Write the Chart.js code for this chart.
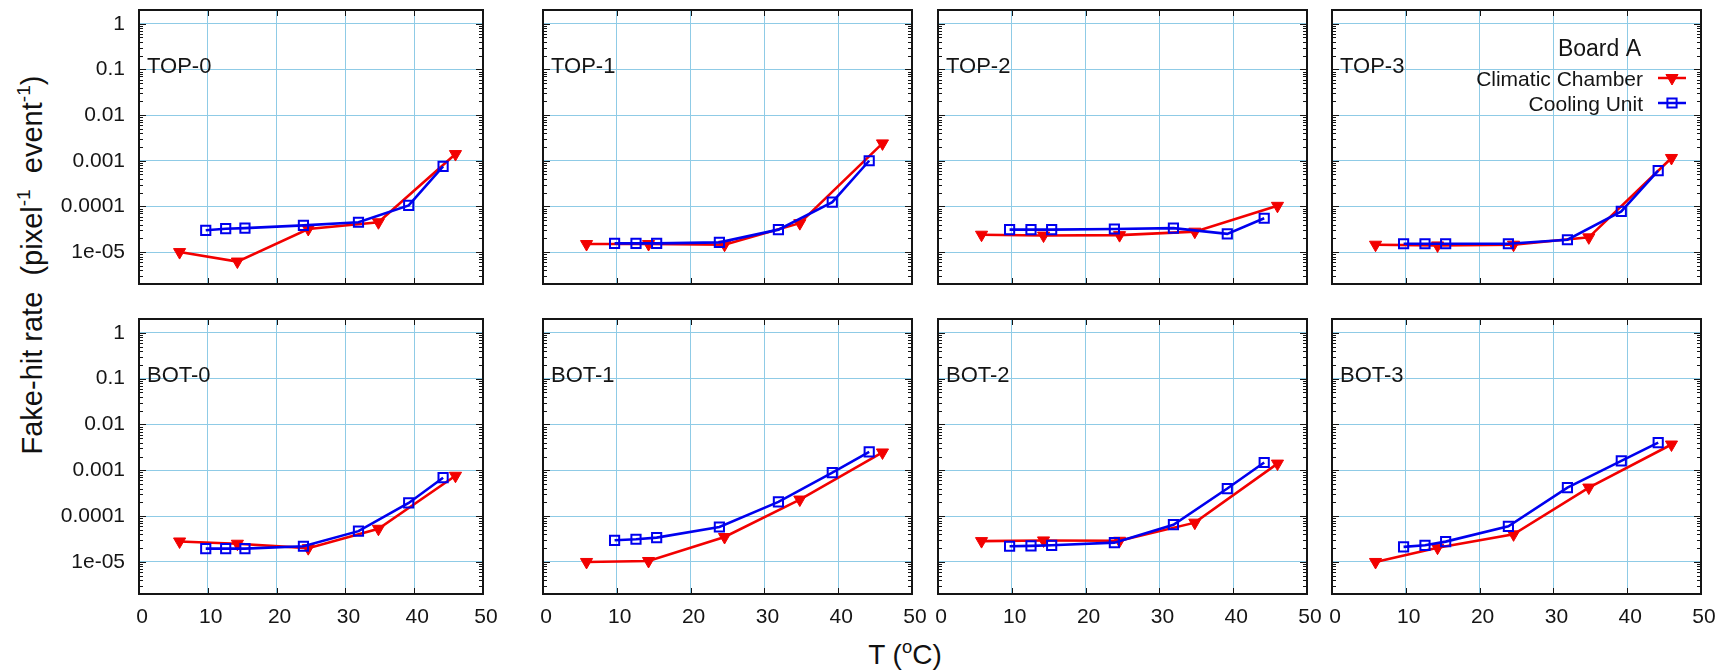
<!DOCTYPE html>
<html><head><meta charset="utf-8">
<script src="https://cdn.jsdelivr.net/npm/chart.js@4.4.1/dist/chart.umd.min.js"></script>
<style>
html,body{margin:0;padding:0;background:#fff;width:1719px;height:670px;overflow:hidden;position:relative;font-family:'Liberation Sans',Arial,Helvetica,sans-serif;}
canvas{position:absolute;}
.ttl{position:absolute;color:#111;white-space:nowrap;text-align:center;line-height:40px;height:40px;}
.ttl sup{font-size:0.66em;line-height:0;vertical-align:0.62em;}
</style></head><body>
<div class="ttl" id="ytitle" style="font-size:29px;left:-218px;top:245px;width:500px;transform:rotate(-90deg);">Fake-hit rate&nbsp; (pixel<sup>-1</sup> &nbsp;event<sup>-1</sup>)</div>
<div class="ttl" id="xtitle" style="font-size:28px;left:805px;top:635px;width:200px;">T (<sup>o</sup>C)</div>
<script>
// ---------------- data ----------------
const panelNames = ['TOP-0','TOP-1','TOP-2','TOP-3','BOT-0','BOT-1','BOT-2','BOT-3'];
const seriesNames = ['Climatic Chamber','Cooling Unit'];
const legendTitle = 'Board A';
const tempClimatic = [5.9, 14.3, 24.6, 34.8, 46.0];
const tempCooling  = [9.7, 12.6, 15.4, 23.9, 31.9, 39.2, 44.2];

const climaticTOP0 = [1.0e-5, 6.2e-6, 3.2e-5, 4.5e-5, 1.4e-3];
const climaticTOP1 = [1.5e-5, 1.5e-5, 1.45e-5, 4.3e-5, 2.4e-3];
const climaticTOP2 = [2.4e-5, 2.3e-5, 2.35e-5, 2.8e-5, 1.03e-4];
const climaticTOP3 = [1.45e-5, 1.4e-5, 1.45e-5, 2.1e-5, 1.15e-3];
const climaticBOT0 = [2.8e-5, 2.5e-5, 2.0e-5, 5.3e-5, 7.6e-4];
const climaticBOT1 = [1.0e-5, 1.05e-5, 3.5e-5, 2.3e-4, 2.45e-3];
const climaticBOT2 = [2.85e-5, 2.95e-5, 2.9e-5, 7.2e-5, 1.4e-3];
const climaticBOT3 = [1.0e-5, 2.05e-5, 4.0e-5, 4.2e-4, 3.65e-3];

const coolingTOP0 = [3.0e-5, 3.25e-5, 3.35e-5, 3.85e-5, 4.5e-5, 1.05e-4, 7.5e-4];
const coolingTOP1 = [1.55e-5, 1.55e-5, 1.55e-5, 1.63e-5, 3.1e-5, 1.24e-4, 1.0e-3];
const coolingTOP2 = [3.1e-5, 3.1e-5, 3.1e-5, 3.2e-5, 3.35e-5, 2.5e-5, 5.5e-5];
const coolingTOP3 = [1.52e-5, 1.52e-5, 1.52e-5, 1.52e-5, 1.86e-5, 7.8e-5, 6.1e-4];
const coolingBOT0 = [1.95e-5, 1.95e-5, 1.95e-5, 2.2e-5, 4.7e-5, 1.94e-4, 6.9e-4];
const coolingBOT1 = [2.97e-5, 3.13e-5, 3.4e-5, 5.8e-5, 2.04e-4, 8.9e-4, 2.52e-3];
const coolingBOT2 = [2.2e-5, 2.24e-5, 2.31e-5, 2.64e-5, 6.5e-5, 4.0e-4, 1.48e-3];
const coolingBOT3 = [2.13e-5, 2.31e-5, 2.78e-5, 6.0e-5, 4.2e-4, 1.6e-3, 4.03e-3];

const yTickValues = [1e-5, 1e-4, 1e-3, 1e-2, 1e-1, 1];
const yTickLabels = ['1e-05', '0.0001', '0.001', '0.01', '0.1', '1'];
const xTickValues = [0, 10, 20, 30, 40, 50];
const xTickLabels = ['0', '10', '20', '30', '40', '50'];
const yMin = 2e-6, yMax = 2;
const xMin = 0, xMax = 50;

const climaticSets = [climaticTOP0, climaticTOP1, climaticTOP2, climaticTOP3, climaticBOT0, climaticBOT1, climaticBOT2, climaticBOT3];
const coolingSets  = [coolingTOP0, coolingTOP1, coolingTOP2, coolingTOP3, coolingBOT0, coolingBOT1, coolingBOT2, coolingBOT3];

// ---------------- layout / style ----------------
const FONT = "'Liberation Sans', Arial, Helvetica, sans-serif";
const GRID = '#8fcbe6';
const RED = '#f20000';
const BLUE = '#0000ee';
const INK = '#151515';
const colLeft = [139, 543, 938, 1332];
const colRight = [483, 912, 1307, 1701];
const rowTop = [10, 319];
const rowBottom = [284, 594];

Chart.defaults.font.family = FONT;

function marker(ctx, style, x, y, r, fill, stroke, bw, rot){
  if (Chart.helpers && Chart.helpers.drawPoint) {
    ctx.save();
    ctx.fillStyle = fill; ctx.strokeStyle = stroke; ctx.lineWidth = bw;
    Chart.helpers.drawPoint(ctx, {pointStyle: style, radius: r, rotation: rot || 0, borderWidth: bw}, x, y);
    ctx.restore();
  }
}

function framePlugin(idx){
  return {
    id: 'frame' + idx,
    afterDraw(chart){
      const ctx = chart.ctx, a = chart.chartArea, ys = chart.scales.y, xs = chart.scales.x;
      ctx.save();
      ctx.strokeStyle = INK; ctx.lineWidth = 1;
      const seg = (x1,y1,x2,y2)=>{ctx.beginPath();ctx.moveTo(x1,y1);ctx.lineTo(x2,y2);ctx.stroke();};
      // y ticks (major at decades, minor 2..9), inward on both sides
      for (let e = -6; e <= 0; e++) {
        for (let m = 1; m <= 9; m++) {
          const v = m * Math.pow(10, e);
          if (v < yMin * 0.999 || v > yMax * 1.001) continue;
          const p = Math.round(ys.getPixelForValue(v)) + 0.5;
          const L = m === 1 ? 7 : 4;
          seg(a.left, p, a.left + L, p);
          seg(a.right - L, p, a.right, p);
        }
      }
      // x ticks inward top & bottom
      xTickValues.forEach(v => {
        const p = Math.round(xs.getPixelForValue(v)) + 0.5;
        seg(p, a.bottom, p, a.bottom - 6);
        seg(p, a.top, p, a.top + 6);
      });
      // box
      ctx.lineWidth = 2;
      ctx.strokeRect(a.left, a.top, a.right - a.left, a.bottom - a.top);
      // panel label
      ctx.fillStyle = INK;
      ctx.textAlign = 'left'; ctx.textBaseline = 'alphabetic';
      ctx.font = '22px ' + FONT;
      ctx.fillText(panelNames[idx], a.left + 8, a.top + 63);
      // legend
      if (idx === 3) {
        ctx.textAlign = 'right';
        ctx.font = '23px ' + FONT;
        ctx.fillText(legendTitle, a.right - 60, a.top + 46);
        ctx.font = '21px ' + FONT;
        ctx.fillText(seriesNames[0], a.right - 58, a.top + 76);
        ctx.fillText(seriesNames[1], a.right - 58, a.top + 101);
        ctx.lineWidth = 2.5;
        ctx.strokeStyle = RED;
        seg(a.right - 43, a.top + 68, a.right - 15, a.top + 68);
        ctx.strokeStyle = BLUE;
        seg(a.right - 43, a.top + 93, a.right - 15, a.top + 93);
        marker(ctx, 'triangle', a.right - 29, a.top + 68, 7, RED, RED, 1, 180);
        marker(ctx, 'rect', a.right - 29, a.top + 93, 6.5, 'rgba(0,0,0,0)', BLUE, 2, 0);
      }
      ctx.restore();
    }
  };
}

function makeChart(idx){
  const col = idx % 4, row = Math.floor(idx / 4);
  const yW = col === 0 ? 139 : 18;
  const padR = 20;
  const padT = row === 0 ? 10 : 14;
  const xH = row === 0 ? 14 : 50;
  const w = colRight[col] - colLeft[col] + yW + padR;
  const h = rowBottom[row] - rowTop[row] + padT + xH;
  const cv = document.createElement('canvas');
  cv.width = w; cv.height = h;
  cv.style.left = (colLeft[col] - yW) + 'px';
  cv.style.top = (rowTop[row] - padT) + 'px';
  cv.style.width = w + 'px'; cv.style.height = h + 'px';
  document.body.appendChild(cv);

  new Chart(cv.getContext('2d'), {
    type: 'line',
    data: {
      datasets: [
        {
          label: seriesNames[0],
          data: tempClimatic.map((x, i) => ({x: x, y: climaticSets[idx][i]})),
          borderColor: RED, backgroundColor: RED, borderWidth: 2.6,
          pointStyle: 'triangle', pointRotation: 180, pointRadius: 7,
          pointBackgroundColor: RED, pointBorderColor: RED, pointBorderWidth: 1,
          tension: 0, fill: false, order: 2
        },
        {
          label: seriesNames[1],
          data: tempCooling.map((x, i) => ({x: x, y: coolingSets[idx][i]})),
          borderColor: BLUE, backgroundColor: 'rgba(0,0,0,0)', borderWidth: 2.6,
          pointStyle: 'rect', pointRadius: 6.5,
          pointBackgroundColor: 'rgba(0,0,0,0)', pointBorderColor: BLUE, pointBorderWidth: 2,
          tension: 0, fill: false, order: 1
        }
      ]
    },
    options: {
      responsive: false, animation: false, devicePixelRatio: 1,
      layout: {padding: {top: padT, right: padR, left: 0, bottom: 0}},
      plugins: {legend: {display: false}, tooltip: {enabled: false}},
      events: [],
      scales: {
        x: {
          type: 'linear', min: xMin, max: xMax,
          afterBuildTicks: s => { s.ticks = xTickValues.map(v => ({value: v})); },
          afterFit: s => { s.height = xH; s.paddingLeft = 0; s.paddingRight = 0; },
          ticks: {
            display: row === 1, autoSkip: false, maxRotation: 0, padding: 11, labelOffset: 3,
            font: {size: 21, family: FONT}, color: INK,
            callback: v => xTickLabels[xTickValues.indexOf(v)]
          },
          grid: {
            drawTicks: false, lineWidth: 1,
            color: c => (c.tick && (c.tick.value === xMin || c.tick.value === xMax)) ? 'rgba(0,0,0,0)' : GRID
          },
          border: {display: false}
        },
        y: {
          type: 'logarithmic', min: yMin, max: yMax,
          afterBuildTicks: s => { s.ticks = yTickValues.map(v => ({value: v})); },
          afterFit: s => { s.width = yW; s.paddingTop = 0; s.paddingBottom = 0; },
          ticks: {
            display: col === 0, autoSkip: false, padding: 14,
            font: {size: 21, family: FONT}, color: INK,
            callback: v => yTickLabels[yTickValues.indexOf(v)]
          },
          grid: {drawTicks: false, lineWidth: 1, color: GRID},
          border: {display: false}
        }
      }
    },
    plugins: [framePlugin(idx)]
  });
}

for (let i = 0; i < 8; i++) makeChart(i);
</script>
</body></html>
